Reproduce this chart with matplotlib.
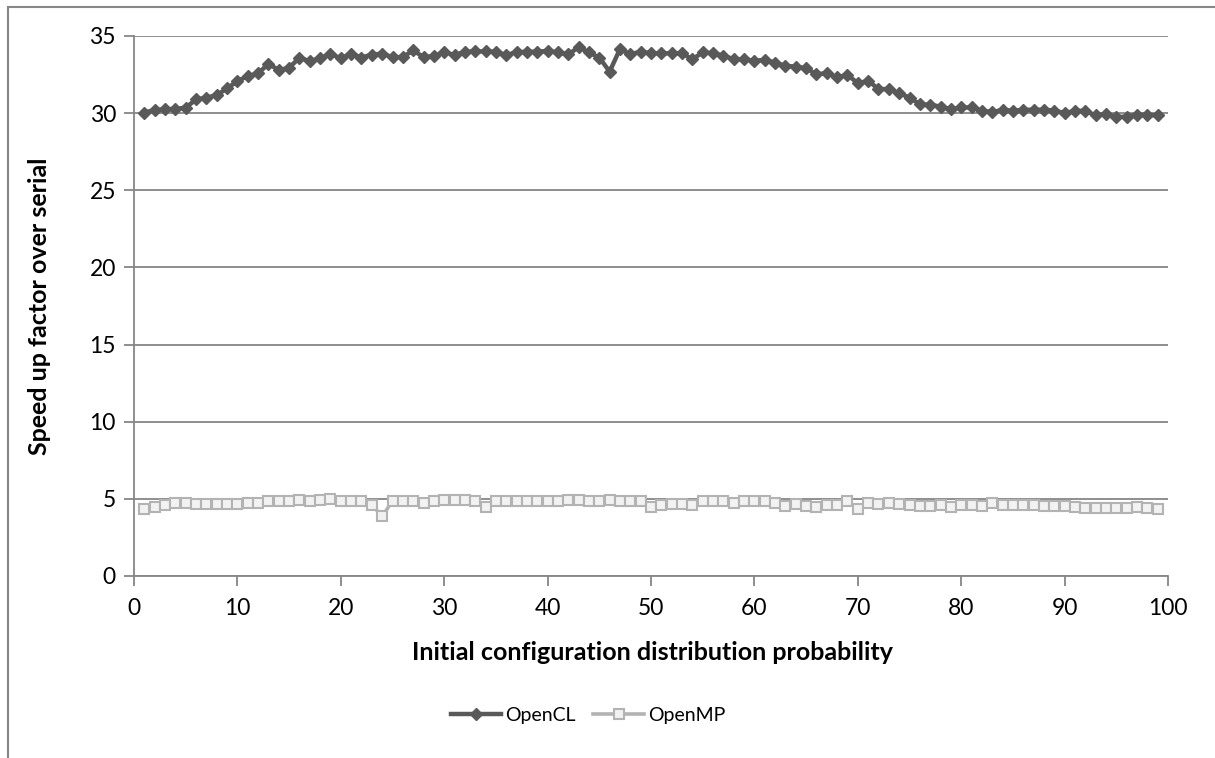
import matplotlib.pyplot as plt
from matplotlib.patches import Rectangle
import numpy as np

# data
prob = list(range(1, 100))

opencl = [30.04, 30.2, 30.25, 30.28, 30.35, 30.89, 31.0, 31.17, 31.6, 32.08,
          32.4, 32.57, 33.2, 32.79, 32.94, 33.59, 33.37, 33.55, 33.85, 33.55,
          33.85, 33.6, 33.8, 33.85, 33.63, 33.63, 34.07, 33.63, 33.7, 33.96,
          33.76, 33.98, 34.0, 34.0, 33.98, 33.76, 33.96, 33.97, 33.99, 34.03,
          33.94, 33.81, 34.27, 33.94, 33.6, 32.69, 34.16, 33.81, 33.99, 33.88,
          33.88, 33.88, 33.88, 33.49, 33.94, 33.88, 33.73, 33.49, 33.49, 33.4,
          33.45, 33.28, 33.06, 33.02, 32.91, 32.52, 32.59, 32.33, 32.48, 31.94,
          32.09, 31.57, 31.55, 31.29, 31.01, 30.58, 30.54, 30.43, 30.26, 30.37,
          30.37, 30.17, 30.06, 30.22, 30.15, 30.22, 30.22, 30.22, 30.17, 30.0,
          30.15, 30.15, 29.85, 29.94, 29.74, 29.78, 29.89, 29.89, 29.85]

openmp = [4.33, 4.5, 4.61, 4.72, 4.72, 4.66, 4.66, 4.66, 4.66, 4.68,
          4.72, 4.72, 4.83, 4.83, 4.89, 4.93, 4.83, 4.93, 4.98, 4.89,
          4.89, 4.83, 4.61, 3.86, 4.87, 4.83, 4.83, 4.76, 4.83, 4.93,
          4.93, 4.93, 4.83, 4.46, 4.87, 4.83, 4.83, 4.83, 4.83, 4.83,
          4.83, 4.93, 4.93, 4.89, 4.89, 4.93, 4.87, 4.87, 4.83, 4.46,
          4.61, 4.68, 4.68, 4.61, 4.83, 4.83, 4.83, 4.76, 4.83, 4.83,
          4.83, 4.76, 4.55, 4.68, 4.55, 4.5, 4.61, 4.61, 4.89, 4.33,
          4.72, 4.68, 4.72, 4.68, 4.61, 4.55, 4.55, 4.61, 4.5, 4.61,
          4.61, 4.55, 4.72, 4.61, 4.61, 4.61, 4.61, 4.55, 4.55, 4.55,
          4.46, 4.4, 4.4, 4.4, 4.4, 4.4, 4.5, 4.4, 4.33]

xticks = list(range(0, 101, 10))
yticks = list(range(0, 36, 5))

plt.rcParams['font.family'] = ['Lato', 'DejaVu Sans']

W, H = 1215, 758
fig = plt.figure(figsize=(W / 100, H / 100), dpi=100)
ax = fig.add_axes([134 / W, 1 - 576 / H, (1168 - 134) / W, (576 - 36) / H])

grey = '#868686'
ax.plot(prob, opencl, color='#595959', lw=3.2, marker='D', ms=6,
        mec='#595959', mfc='#595959', label='OpenCL', zorder=3)
ax.plot(prob, openmp, color='#b3b3b3', lw=2.6, marker='s', ms=6.5,
        mec='#b3b3b3', mfc='#f2f2f2', mew=1.5, label='OpenMP', zorder=3)

ax.set_xlim(0, 100)
ax.set_ylim(0, 35)
ax.set_xticks(xticks)
ax.set_yticks(yticks)
ax.yaxis.grid(True, color=grey, lw=1.3)
ax.set_axisbelow(True)
for s in ['top', 'right']:
    ax.spines[s].set_visible(False)
for s in ['left', 'bottom']:
    ax.spines[s].set_color(grey)
    ax.spines[s].set_linewidth(1.3)
ax.tick_params(colors=grey, labelcolor='black', labelsize=16.5, length=7,
               width=1.3, direction='out')
ax.tick_params(axis='x', pad=9)
ax.tick_params(axis='y', pad=6)

ax.set_xlabel('Initial configuration distribution probability',
              fontsize=18, fontweight='bold', va='center')
ax.set_ylabel('Speed up factor over serial', fontsize=18,
              fontweight='bold', va='center')
ax.xaxis.set_label_coords((653 - 134) / 1034, (576 - 652) / 540)
ax.yaxis.set_label_coords((40 - 134) / 1034, 0.5)

leg = fig.legend(loc='center', bbox_to_anchor=(588 / W, 1 - 715 / H), ncol=2,
                 frameon=False, fontsize=14, handlelength=2.6,
                 columnspacing=0.9, handletextpad=0.2)

# chart border (cropped on right and bottom)
fig.patches.append(Rectangle((8 / W, -0.1), 2, 1.1 - 7 / H,
                             transform=fig.transFigure, fill=False,
                             edgecolor=grey, lw=1.5))

fig.savefig('out.png', dpi=100)
